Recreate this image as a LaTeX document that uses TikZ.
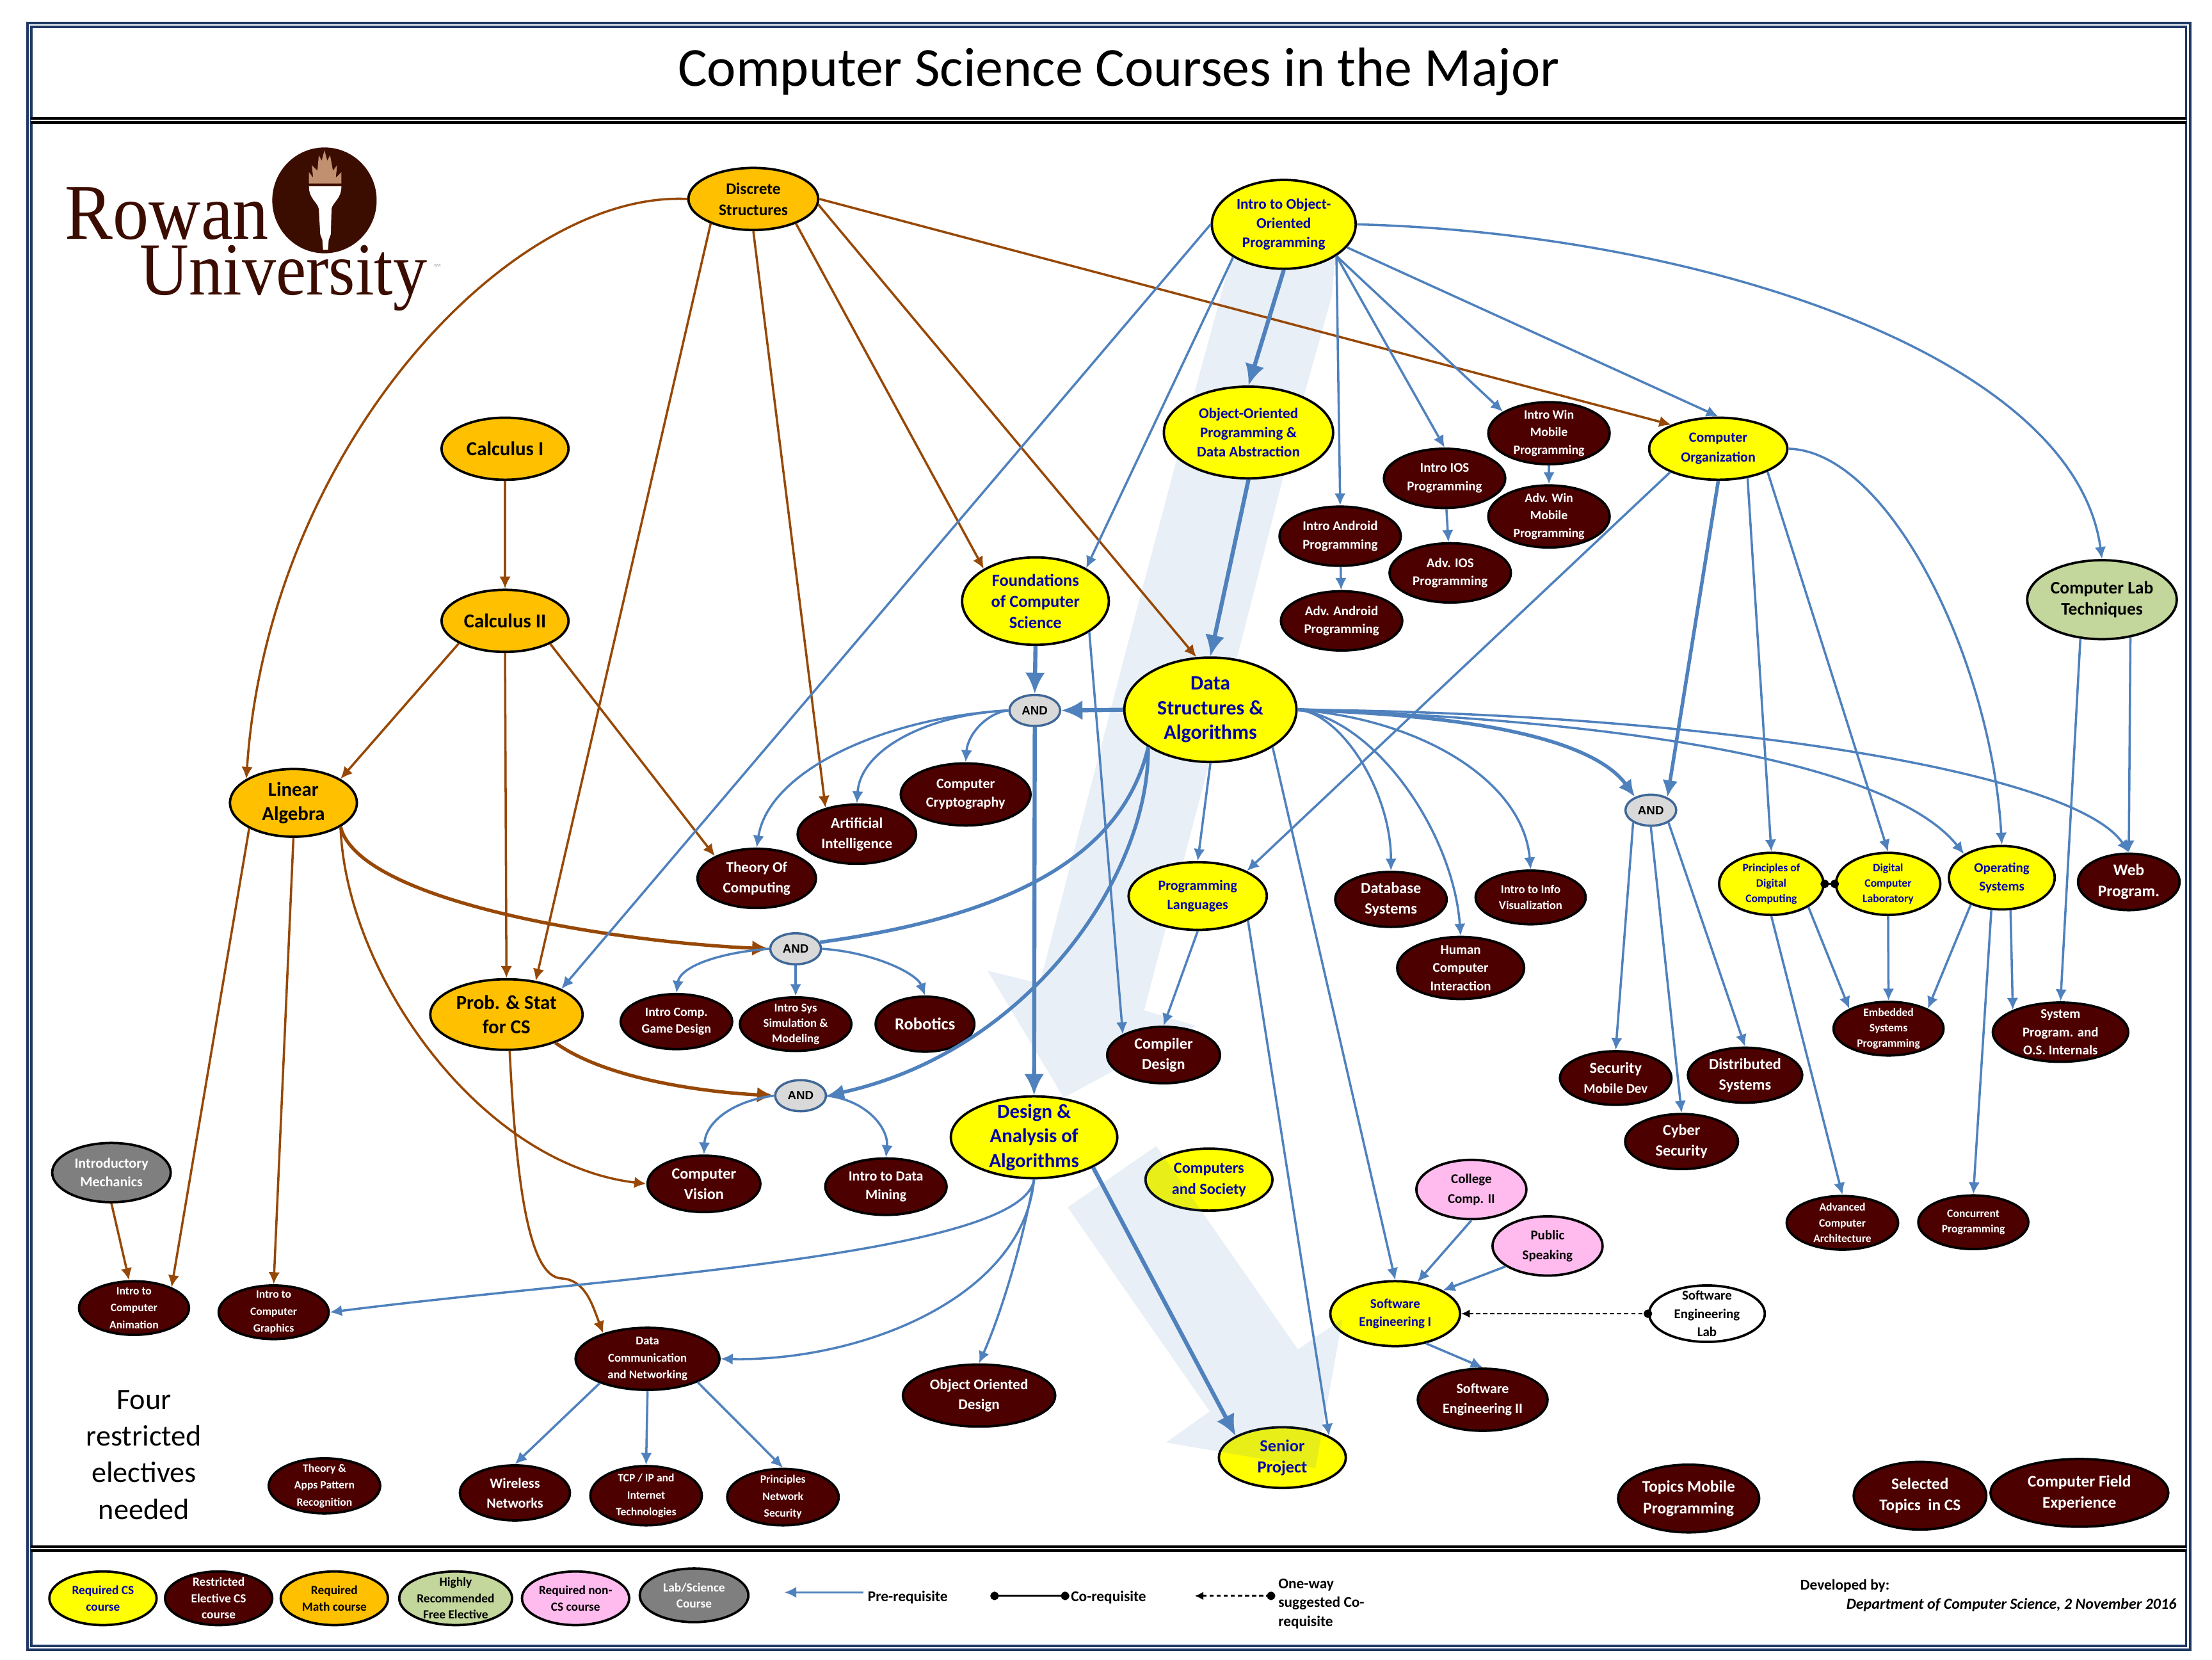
\documentclass[tikz,border=0pt]{standalone}
\usepackage{fontspec}
\usepackage{graphicx}
\setmainfont{Carlito}
\newfontfamily\logofont{Liberation Serif}
\newfontfamily\andfont{Liberation Sans}
\usetikzlibrary{arrows.meta,shapes.geometric}

\definecolor{rowblue}{HTML}{4F81BD}
\definecolor{rowbrown}{HTML}{974806}
\definecolor{rowmaroon}{HTML}{4D0000}
\definecolor{rowyellow}{HTML}{FFFF00}
\definecolor{roworange}{HTML}{FFC000}
\definecolor{rowgreen}{HTML}{C3D69B}
\definecolor{rowpink}{HTML}{FFBBEE}
\definecolor{rowgray}{HTML}{7F7F7F}
\definecolor{rowtext}{HTML}{0000A8}
\definecolor{rowframe}{HTML}{1F3864}
\definecolor{rowlogo}{HTML}{3B0C00}
\definecolor{rowflame}{HTML}{C09070}

\begin{document}
\begin{tikzpicture}[
    x=1pt, y=-1pt,
    crs/.style={
        ellipse, draw=black, line width=1.7pt, align=center, inner sep=-30pt},
    sz/.style n args={4}{
        minimum width=#1pt, minimum height=#2pt,
        font=\bfseries\fontsize{#3}{#4}\selectfont},
    req/.style={crs, fill=rowyellow, text=rowtext},
    res/.style={crs, fill=rowmaroon, text=white},
    mth/.style={crs, fill=roworange, text=black},
    grn/.style={crs, fill=rowgreen, text=black},
    pnk/.style={crs, fill=rowpink, text=black},
    gry/.style={crs, fill=rowgray, text=white},
    wht/.style={crs, fill=white, text=black},
    gate/.style={
        ellipse, draw=rowblue!80!black, line width=1.6pt, fill=black!15, inner sep=-30pt,
        minimum width=36pt, minimum height=22pt, font=\andfont\bfseries\fontsize{8.5}{10}\selectfont},
    arr/.style={-{Latex[length=8.5pt,width=8pt]}, line width=1.6pt, draw=rowblue},
    arrm/.style={-{Latex[length=12pt,width=11pt]}, line width=2.5pt, draw=rowblue},
    arrb/.style={-{Latex[length=15pt,width=14pt]}, line width=2.9pt, draw=rowblue},
    lnk/.style={line width=2.5pt, draw=rowblue},
    brn/.style={-{Latex[length=8.5pt,width=8pt]}, line width=1.6pt, draw=rowbrown},
    brnb/.style={-{Latex[length=12pt,width=11pt]}, line width=2.4pt, draw=rowbrown},
    coreq/.style={{Circle[length=6pt]}-{Circle[length=6pt]}, line width=1.4pt, draw=black},
    sugg/.style={{Latex[length=6pt,width=6pt]}-{Circle[length=6pt]}, line width=1.3pt, densely dashed, draw=black},
    band/.style={fill=rowblue!13},
    bandtop/.style={fill=rowblue, fill opacity=.13},
    rule/.style={draw=black, line width=2pt, double=white, double distance=.9pt},
    lbl/.style={font=\bfseries\fontsize{10.6}{13.3}\selectfont, align=left}
]
\useasboundingbox (0,0) rectangle (1568,1176);

%% ══════════════════════════════ FRAME ══════════════════════════════
\draw[draw=rowframe, line width=1.7pt, double=white, double distance=1.1pt]
    (21,17.7) rectangle (1551,1167.7);
\draw[rule] (22,85.5) -- (1550,85.5);
\draw[rule] (22,1097.5) -- (1550,1097.5);
\node[anchor=base, inner sep=0pt, font=\fontsize{39}{44}\selectfont] (title) at (793,61)
    {Computer Science Courses in the Major};

%% Light band behind the required sequence
\fill[band] (874,178) -- (947,178) -- (944,210) -- (925,278) -- (880,454)
    -- (811,716) -- (848,727) -- (754,778) -- (700,688) -- (737,697)
    -- (800,454) -- (847,277) -- cycle;

%% ══════════════════════════════ LOGO ══════════════════════════════
\node[ellipse, fill=rowlogo, minimum width=74pt, minimum height=75pt, inner sep=0pt] (logo_oval) at (230,142) {};
\fill[rowflame] (219,130) -- (219,122) -- (222,126) -- (221,117) -- (225,121)
    -- (226,110) -- (228,114) -- (230,106.5) -- (232,114) -- (234,110) -- (236,121)
    -- (239,117) -- (238,126) -- (242,122) -- (242,130) -- cycle;
\fill[white] (219,132) -- (242,132) .. controls (242,141) and (236,143) .. (235,148)
    -- (234.5,166) -- (233,170) -- (232.5,177) -- (229,177) -- (228.5,170) -- (227,166)
    -- (226,148) .. controls (225,143) and (219,141) .. (219,132) -- cycle;
\node[anchor=base west, inner sep=0pt, text=rowlogo, font=\logofont\fontsize{56}{56}\selectfont] (logo_rowan) at (46,169.5)
    {\scalebox{.91}[1]{Rowan}};
\node[anchor=base west, inner sep=0pt, text=rowlogo, font=\logofont\fontsize{53}{53}\selectfont] (logo_univ) at (99,209)
    {\scalebox{.91}[1]{University}};
\node[inner sep=0pt, text=black!45, font=\fontsize{3.5}{4}\selectfont] (logo_tm) at (310,188.5) {TM};

%% ══════════════════════════════ MATH ══════════════════════════════
\node[mth, sz={92}{44}{11.5}{15}] (m_disc) at (534,141) {Discrete\\Structures};
\node[mth, sz={90}{44}{14}{16}] (m_calc1) at (358,318) {Calculus I};
\node[mth, sz={90}{44}{14}{16}] (m_calc2) at (358,440) {Calculus II};
\node[mth, sz={90}{48}{14}{17}] (m_lin) at (208,569) {Linear\\Algebra};
\node[mth, sz={108}{50}{14}{17}] (m_prob) at (359,719) {Prob. \& Stat\\for CS};

%% ══════════════════════════════ REQUIRED CS ══════════════════════════════
\node[req, sz={102}{63}{10.5}{13.5}] (cs_intro) at (910,159) {Intro to Object-\\Oriented\\Programming};
\node[req, sz={120}{65}{10.5}{13.5}] (cs_oop) at (885,306.5) {Object-Oriented\\Programming \&\\Data Abstraction};
\node[req, sz={104}{62}{12}{15}] (cs_found) at (734,426) {Foundations\\of Computer\\Science};
\node[req, sz={122}{74}{14.5}{17.5}] (cs_ds) at (858,503) {Data\\Structures \&\\Algorithms};
\node[req, sz={98}{44}{10}{14}] (cs_org) at (1218,318) {Computer\\Organization};
\node[req, sz={98}{48}{10}{13.5}] (cs_lang) at (849,635) {Programming\\Languages};
\node[req, sz={118}{58}{14}{17.5}] (cs_alg) at (733,806) {Design \&\\Analysis of\\Algorithms};
\node[req, sz={90}{44}{11}{15}] (cs_soc) at (857,836) {Computers\\and Society};
\node[req, sz={92}{46}{9.5}{13}] (cs_se1) at (989,931) {Software\\Engineering I};
\node[req, sz={90}{43}{12}{15}] (cs_sen) at (909,1033) {Senior\\Project};
\node[req, sz={74}{44}{8}{11}] (cs_pdc) at (1255.6,626.4) {Principles of\\Digital\\Computing};
\node[req, sz={74}{44}{8}{11}] (cs_dlab) at (1338.4,626.4) {Digital\\Computer\\Laboratory};
\node[req, sz={75}{45}{9.5}{13}] (cs_os) at (1419,622) {Operating\\Systems};

%% ══════════════════════════════ ELECTIVES ══════════════════════════════
\node[res, sz={86}{44}{9}{12.5}] (el_win) at (1098,307) {Intro Win\\Mobile\\Programming};
\node[res, sz={86}{44}{9}{12.5}] (el_advwin) at (1098,366) {Adv. Win\\Mobile\\Programming};
\node[res, sz={86}{42}{9.5}{13}] (el_ios) at (1024,339) {Intro IOS\\Programming};
\node[res, sz={86}{42}{9.5}{13}] (el_advios) at (1028,406) {Adv. IOS\\Programming};
\node[res, sz={86}{42}{9.5}{13}] (el_and) at (950,380) {Intro Android\\Programming};
\node[res, sz={86}{42}{9.5}{13}] (el_advand) at (951,440) {Adv. Android\\Programming};
\node[res, sz={92}{44}{10}{13}] (el_crypt) at (684.5,563) {Computer\\Cryptography};
\node[res, sz={84}{42}{10.5}{14.5}] (el_ai) at (607.4,591.2) {Artificial\\Intelligence};
\node[res, sz={84}{42}{10.5}{14.5}] (el_toc) at (536.4,622.5) {Theory Of\\Computing};
\node[res, sz={79}{39}{9}{12}] (el_game) at (479.5,724) {Intro Comp.\\Game Design};
\node[res, sz={79}{38}{8.5}{11}] (el_sim) at (564,725.8) {Intro Sys\\Simulation \&\\Modeling};
\node[res, sz={70}{39}{12}{14}] (el_rob) at (655.7,725.8) {Robotics};
\node[res, sz={80}{40}{11}{14.5}] (el_comp) at (824.8,747.7) {Compiler\\Design};
\node[res, sz={79}{39}{11}{14.5}] (el_db) at (986,637.4) {Database\\Systems};
\node[res, sz={78}{38}{8.5}{11.5}] (el_viz) at (1085,636) {Intro to Info\\Visualization};
\node[res, sz={90}{44}{9.5}{13}] (el_hci) at (1035.4,686) {Human\\Computer\\Interaction};
\node[res, sz={79}{38}{11}{14}] (el_sec) at (1145.3,764) {Security\\{\fontsize{9.5}{14}\selectfont Mobile Dev}};
\node[res, sz={81}{39}{11}{14.5}] (el_dist) at (1237,762) {Distributed\\Systems};
\node[res, sz={80}{39}{11}{14.5}] (el_cyb) at (1192,809) {Cyber\\Security};
\node[res, sz={72}{40}{11.5}{15}] (el_web) at (1509,625) {Web\\Program.};
\node[res, sz={78}{38}{8}{11}] (el_emb) at (1338.7,729) {Embedded\\Systems\\Programming};
\node[res, sz={96}{42}{9.5}{13}] (el_sys) at (1460.6,731.5) {System\\Program. and\\O.S. Internals};
\node[res, sz={79}{38}{8}{11}] (el_arch) at (1306,866.6) {Advanced\\Computer\\Architecture};
\node[res, sz={78}{38}{8}{11}] (el_conc) at (1398.8,866.2) {Concurrent\\Programming};
\node[res, sz={80}{40}{11}{14.5}] (el_vis) at (499,839) {Computer\\Vision};
\node[res, sz={86}{40}{10}{13}] (el_mine) at (628,841) {Intro to Data\\Mining};
\node[res, sz={78}{38}{8}{12}] (el_anim) at (95,927) {Intro to\\Computer\\Animation};
\node[res, sz={78}{38}{8}{12}] (el_gfx) at (194,930) {Intro to\\Computer\\Graphics};
\node[res, sz={102}{44}{8.5}{12}] (el_net) at (459,963) {Data\\Communication\\and Networking};
\node[res, sz={108}{44}{10.5}{14}] (el_ood) at (694,989) {Object Oriented\\Design};
\node[res, sz={92}{44}{10}{14}] (el_se2) at (1051,992) {Software\\Engineering II};
\node[res, sz={79}{39}{8}{12}] (el_pat) at (230,1053) {Theory \&\\Apps Pattern\\Recognition};
\node[res, sz={78}{39}{10}{14}] (el_wire) at (365,1058) {Wireless\\Networks};
\node[res, sz={79}{42}{8}{12}] (el_tcp) at (458,1060) {TCP / IP and\\Internet\\Technologies};
\node[res, sz={79}{40}{8}{12}] (el_nsec) at (555,1061) {Principles\\Network\\Security};
\node[res, sz={100}{48}{11.5}{15}] (el_mob) at (1197,1062) {Topics Mobile\\Programming};
\node[res, sz={94}{48}{11.5}{15}] (el_top) at (1361,1060) {Selected\\Topics\ \ in CS};
\node[res, sz={126}{48}{11.5}{15}] (el_field) at (1474,1058) {Computer Field\\Experience};

%% ══════════════════════════════ OTHER ══════════════════════════════
\node[grn, sz={106}{56}{12.5}{15}] (ot_lab) at (1490,425) {Computer Lab\\Techniques};
\node[gry, sz={84}{42}{10}{13}] (ot_mech) at (79,831) {Introductory\\Mechanics};
\node[pnk, sz={78}{42}{9.5}{14}] (ot_comp) at (1043,843) {College\\Comp. II};
\node[pnk, sz={78}{42}{9.5}{14}] (ot_speak) at (1097,883) {Public\\Speaking};
\node[wht, sz={82}{40}{9.5}{13}] (ot_swlab) at (1210,931) {Software\\Engineering\\Lab};
\node[align=center, font=\fontsize{21}{26}\selectfont] (ot_four) at (102,1031)
    {Four\\restricted\\electives\\needed};

\node[gate] (and_a) at (733.5,503.5) {AND};
\node[gate] (and_b) at (564,672.4) {AND};
\node[gate] (and_c) at (567.5,776.5) {AND};
\node[gate] (and_d) at (1170.2,574.2) {AND};

%% ══════════════════════════════ MATH PRE-REQUISITES ══════════════════════════════
\draw[brn] (m_disc.180) .. controls (360,135) and (190,320) .. (m_lin.153);
\draw[brn] (m_disc.210) -- (m_prob.49);
\draw[brn] (m_disc.270) -- (el_ai.140);
\draw[brn] (m_disc.-30) -- (cs_found.148);
\draw[brn] (m_disc.-5) -- (cs_ds.105);
\draw[brn] (m_disc.0) -- (cs_org.153);
\draw[brn] (m_calc1) -- (m_calc2);
\draw[brn] (m_calc2.206) -- (m_lin.27);
\draw[brn] (m_calc2.270) -- (m_prob.90);
\draw[brn] (m_calc2.-27) -- (el_toc.152);
\draw[brn] (m_lin.210) -- (el_anim.29);
\draw[brn] (m_lin.270) -- (el_gfx.90);
\draw[brn] (m_lin.-27) .. controls (245,690) and (340,825) .. (el_vis.180);
\draw[brnb] (m_lin.-27) .. controls (255,640) and (440,668) .. (and_b.180);
\draw[brnb] (m_prob.-30) .. controls (430,765) and (500,774) .. (and_c.180);
\draw[brn] (m_prob.275) .. controls (366,840) and (375,905) .. (398,906)
    .. controls (415,907) and (420,925) .. (el_net.150);
\draw[brn] (ot_mech.270) -- (el_anim.100);

%% ══════════════════════════════ CS PRE-REQUISITES ══════════════════════════════
\draw[arr] (cs_intro.180) -- (m_prob.25);
\draw[arr] (cs_intro.213) -- (cs_found.33);
\draw[arrb] (cs_intro.270) -- (cs_oop.90);
\draw[arr] (cs_intro.-31) -- (el_and.90);
\draw[arr] (cs_intro.-31) -- (el_ios.90);
\draw[arr] (cs_intro.-31) -- (el_win.155);
\draw[arr] (cs_intro.-20) -- (cs_org.90);
\draw[arr] (cs_intro.0) .. controls (1200,165) and (1470,250) .. (ot_lab.90);
\draw[arr] (el_win) -- (el_advwin);
\draw[arr] (el_ios) -- (el_advios);
\draw[arr] (el_and) -- (el_advand);
\draw[arrb] (cs_oop.270) -- (cs_ds.90);
\draw[arrb] (cs_found.270) -- (and_a.90);
\draw[arr] (cs_found.-30) -- (el_comp.153);
\draw[arrb] (cs_ds.180) -- (and_a.0);
\draw[arrb] (and_a.270) -- (cs_alg.90);

%% AND gate fan-outs
\draw[arr] (and_a.180) .. controls (700,505) and (686,520) .. (el_crypt.90);
\draw[arr] (and_a.180) .. controls (660,506) and (610,530) .. (el_ai.90);
\draw[arr] (and_a.180) .. controls (630,508) and (545,545) .. (el_toc.90);
\draw[arr] (and_b.180) .. controls (510,675) and (482,685) .. (el_game.90);
\draw[arr] (and_b.270) -- (el_sim.90);
\draw[arr] (and_b.0) .. controls (620,675) and (650,690) .. (el_rob.90);
\draw[arr] (and_c.180) .. controls (520,780) and (500,795) .. (el_vis.90);
\draw[arr] (and_c.0) .. controls (615,780) and (630,800) .. (el_mine.90);
\draw[arr] (and_d.215) -- (el_sec.90);
\draw[arr] (and_d.270) -- (el_cyb.90);
\draw[arr] (and_d.-35) -- (el_dist.90);

%% Data structures branches
\draw[lnk] (cs_ds.211) .. controls (795,610) and (710,650) .. (and_b.15);
\draw[arrm] (cs_ds.211) .. controls (815,620) and (730,745) .. (and_c.0);
\draw[arr] (cs_ds.270) -- (cs_lang.90);
\draw[arr] (cs_ds.-31) -- (cs_se1.90);
\draw[arr] (cs_ds.0) .. controls (950,505) and (986,560) .. (el_db.90);
\draw[arr] (cs_ds.0) .. controls (975,510) and (1030,590) .. (el_hci.90);
\draw[arr] (cs_ds.0) .. controls (1010,510) and (1080,555) .. (el_viz.90);
\draw[arrm] (cs_ds.0) .. controls (1050,507) and (1130,525) .. (and_d.140);
\draw[arr] (cs_ds.0) .. controls (1150,510) and (1340,540) .. (cs_os.148);
\draw[arr] (cs_ds.0) .. controls (1200,505) and (1470,545) .. (el_web.90);

%% Computer organization branches
\draw[arrm] (cs_org.270) -- (and_d.38);
\draw[arr] (cs_org.-45) -- (cs_pdc.90);
\draw[arr] (cs_org.-25) -- (cs_dlab.90);
\draw[arr] (cs_org.0) .. controls (1340,320) and (1412,470) .. (cs_os.90);
\draw[arr] (cs_org.206) -- (cs_lang.27);
\draw[arr] (ot_lab.241) -- (el_sys.90);
\draw[arr] (ot_lab.-53) -- (el_web.90);

\draw[arr] (cs_lang.270) -- (el_comp.90);
\draw[arr] (cs_lang.-26) -- (cs_sen.25);
\draw[arrb] (cs_alg.-27) -- (cs_sen.155);
\draw[arr] (cs_alg.270) .. controls (725,890) and (430,905) .. (el_gfx.0);
\draw[arr] (cs_alg.270) .. controls (725,920) and (610,965) .. (el_net.0);
\draw[arr] (cs_alg.270) .. controls (725,880) and (710,930) .. (el_ood.90);

\draw[arr] (cs_pdc.270) -- (el_arch.90);
\draw[arr] (cs_pdc.-32) -- (el_emb.153);
\draw[arr] (cs_dlab.270) -- (el_emb.90);
\draw[arr] (cs_os.221) -- (el_emb.27);
\draw[arr] (cs_os.-75) -- (el_sys.155);
\draw[arr] (cs_os.252) -- (el_conc.90);
\draw[coreq, shorten <=-3pt, shorten >=-3pt] (cs_pdc.0) -- (cs_dlab.180);

\draw[arr] (ot_comp.270) -- (cs_se1.55);
\draw[arr] (ot_speak.206) -- (cs_se1.26);
\draw[arr] (cs_se1.-44) -- (el_se2.90);
\draw[sugg, shorten >=-3pt] (cs_se1.0) -- (ot_swlab.180);
\draw[arr] (el_net.207) -- (el_wire.90);
\draw[arr] (el_net.270) -- (el_tcp.90);
\draw[arr] (el_net.-25) -- (el_nsec.90);

%% Translucent band over the senior project
\fill[bandtop] (819.6,812.2) -- (920,956.3) -- (951.6,934.6) -- (932.5,1040.5)
    -- (826.6,1022.3) -- (857.5,1000.2) -- (756.8,855.6) -- cycle;

%% ══════════════════════════════ LEGEND ══════════════════════════════
\node[req, sz={76}{38}{8.8}{11.5}] (lg_req) at (73,1132.7) {Required CS\\course};
\node[res, sz={76}{38}{8.8}{11.5}] (lg_res) at (155,1132.7) {Restricted\\Elective CS\\course};
\node[mth, sz={76}{38}{8.8}{11.5}] (lg_mth) at (237,1132.7) {Required\\Math course};
\node[grn, sz={80}{38}{8.8}{11.5}] (lg_grn) at (323,1132.7) {Highly\\Recommended\\Free Elective};
\node[pnk, sz={76}{38}{8.8}{11.5}] (lg_pnk) at (408,1132.7) {Required non-\\CS course};
\node[gry, sz={77}{38}{8.8}{11.5}] (lg_gry) at (492,1130.6) {Lab/Science\\Course};

\coordinate (pre_a) at (612,1128.5);
\coordinate (pre_b) at (556,1128.5);
\draw[arr] (pre_a) -- (pre_b);
\node[lbl, anchor=west, inner sep=0pt] (pre_lbl) at (615,1132) {Pre-requisite};
\coordinate (co_a) at (702,1131);
\coordinate (co_b) at (758,1131);
\draw[coreq] (co_a) -- (co_b);
\node[lbl, anchor=west, inner sep=0pt] (co_lbl) at (759,1132) {Co-requisite};
\coordinate (sg_a) at (847,1131);
\coordinate (sg_b) at (904,1131);
\draw[sugg] (sg_a) -- (sg_b);
\node[lbl, anchor=west, inner sep=0pt] (sg_lbl) at (906,1136.5) {One-way\\suggested Co-\\requisite};
\node[lbl, anchor=west, inner sep=0pt] (dev_lbl) at (1276,1124) {Developed by:};
\node[lbl, anchor=east, inner sep=0pt, font=\bfseries\itshape\fontsize{10.9}{12}\selectfont] (dept_lbl) at (1543,1137.5)
    {Department of Computer Science, 2 November 2016};

\end{tikzpicture}
\end{document}
